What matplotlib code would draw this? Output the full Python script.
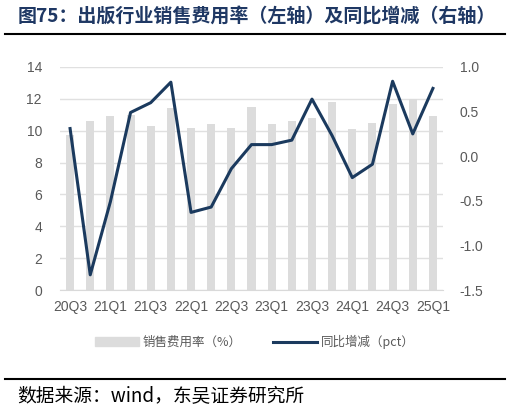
import numpy as np
import matplotlib
matplotlib.use('Agg')
from matplotlib import pyplot as plt
from matplotlib.lines import Line2D
from matplotlib.patches import Patch

plt.rcParams['font.family'] = ['Noto Sans CJK SC', 'DejaVu Sans']
plt.rcParams['axes.unicode_minus'] = False

# 数据
quarters = ['20Q3', '20Q4', '21Q1', '21Q2', '21Q3', '21Q4', '22Q1', '22Q2', '22Q3', '22Q4',
            '23Q1', '23Q2', '23Q3', '23Q4', '24Q1', '24Q2', '24Q3', '24Q4', '25Q1']
sales_rate = [9.7, 10.6, 10.9, 11.0, 10.3, 11.4, 10.2, 10.4, 10.2, 11.5,
              10.4, 10.6, 10.8, 11.8, 10.1, 10.5, 11.7, 12.0, 10.9]
yoy_change = [0.31, -1.33, -0.51, 0.49, 0.60, 0.83, -0.63, -0.57, -0.14, 0.13,
              0.13, 0.18, 0.64, 0.23, -0.24, -0.09, 0.84, 0.25, 0.76]

bar_color = '#dcdcdc'
line_color = '#1b3a5e'
text_grey = '#595959'
num_font = ['Liberation Sans', 'DejaVu Sans']

fig = plt.figure(figsize=(5.1, 4.13), dpi=100)
ax = fig.add_axes([60/510, 1-290/413, 383/510, 223/413])
x = np.arange(len(quarters))
ax.bar(x, sales_rate, width=0.4, color=bar_color, zorder=2)
ax.set_ylim(0, 14)
ax.set_yticks(range(0, 15, 2))
ax.set_xlim(-0.5, len(quarters) - 0.5)
ax.set_xticks(x[::2])
ax.set_xticklabels(quarters[::2])
ax.grid(axis='y', color='#e0e0e0', lw=1, zorder=0)
for s in ['top', 'right', 'left']:
    ax.spines[s].set_visible(False)
ax.spines['bottom'].set_color('#d9d9d9')
ax.tick_params(length=0, labelsize=10, colors=text_grey, pad=7)
ax.tick_params(axis='y', pad=13)
for lab in ax.get_xticklabels() + ax.get_yticklabels():
    lab.set_family(num_font)

ax2 = ax.twinx()
ax2.plot(x, yoy_change, color=line_color, lw=2.2, zorder=3)
ax2.set_ylim(-1.5, 1.0)
ax2.set_yticks(np.arange(-1.5, 1.01, 0.5))
ax2.set_yticklabels(['%.1f' % v for v in np.arange(-1.5, 1.01, 0.5)])
for s in ax2.spines.values():
    s.set_visible(False)
ax2.tick_params(length=0, labelsize=10, colors=text_grey, pad=12)
for lab in ax2.get_yticklabels():
    lab.set_family(num_font)

# 图例
handles = [Patch(color=bar_color), Line2D([], [], color=line_color, lw=2.2)]
fig.legend(handles, ['销售费用率（%）', '同比增减（pct）'], loc='center',
           bbox_to_anchor=(0.5, 1-342/413), ncol=2, frameon=False,
           fontsize=9, labelcolor=text_grey, handlelength=3.5, columnspacing=2.5,
           handletextpad=0.3)

# 标题与来源
fig.text(18/510, 1-17/413, '图75：出版行业销售费用率（左轴）及同比增减（右轴）',
         fontsize=13.7, fontweight='bold', color='#1f3864', va='center')
fig.add_artist(Line2D([5/510, 505/510], [1-34/413, 1-34/413], color='black', lw=1.5))
fig.add_artist(Line2D([5/510, 505/510], [1-379/413, 1-379/413], color='black', lw=1.5))
fig.text(17/510, 1-397/413, '数据来源：wind，东吴证券研究所', fontsize=13.5, color='black', va='center')

fig.savefig('out.png', dpi=100)
